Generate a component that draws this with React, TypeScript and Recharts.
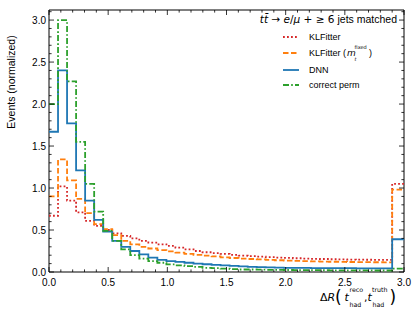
import React from 'react';
import { LineChart, Line, XAxis, YAxis, Legend, ReferenceArea } from 'recharts';

// Bin edges (38 regular bins from 0 to 2.9, plus an overflow bin up to 3.0)
const binEdges = [
  0, 0.0763, 0.1526, 0.2289, 0.3053, 0.3816, 0.4579, 0.5342, 0.6105, 0.6868,
  0.7632, 0.8395, 0.9158, 0.9921, 1.0684, 1.1447, 1.2211, 1.2974, 1.3737, 1.45,
  1.5263, 1.6026, 1.6789, 1.7553, 1.8316, 1.9079, 1.9842, 2.0605, 2.1368, 2.2132,
  2.2895, 2.3658, 2.4421, 2.5184, 2.5947, 2.6711, 2.7474, 2.8237, 2.9, 3.0,
];

const klfitter = [
  0.67, 1.02, 0.85, 0.71, 0.61, 0.55, 0.50, 0.46, 0.43, 0.40,
  0.37, 0.35, 0.33, 0.31, 0.29, 0.27, 0.25, 0.235, 0.225, 0.215,
  0.205, 0.195, 0.19, 0.183, 0.177, 0.172, 0.168, 0.164, 0.16, 0.157,
  0.155, 0.152, 0.15, 0.148, 0.147, 0.146, 0.145, 0.145, 1.05,
];

const klfitterFixed = [
  0.90, 1.34, 1.09, 0.87, 0.70, 0.57, 0.51, 0.44, 0.37, 0.33,
  0.30, 0.28, 0.26, 0.245, 0.23, 0.215, 0.205, 0.195, 0.185, 0.175,
  0.167, 0.16, 0.155, 0.15, 0.145, 0.14, 0.136, 0.132, 0.129, 0.126,
  0.124, 0.122, 0.12, 0.119, 0.118, 0.117, 0.116, 0.115, 0.98,
];

const dnn = [
  1.67, 2.40, 1.77, 1.21, 0.85, 0.62, 0.48, 0.37, 0.30, 0.25,
  0.21, 0.17, 0.145, 0.13, 0.12, 0.11, 0.10, 0.092, 0.085, 0.078,
  0.072, 0.066, 0.062, 0.058, 0.055, 0.052, 0.05, 0.049, 0.048, 0.047,
  0.046, 0.046, 0.045, 0.045, 0.044, 0.044, 0.043, 0.043, 0.39,
];

const correctPerm = [
  2.0, 3.0, 2.27, 1.55, 1.05, 0.72, 0.49, 0.37, 0.27, 0.20,
  0.16, 0.13, 0.11, 0.09, 0.08, 0.07, 0.06, 0.05, 0.045, 0.04,
  0.035, 0.03, 0.03, 0.028, 0.026, 0.025, 0.024, 0.023, 0.022, 0.022,
  0.021, 0.02, 0.02, 0.02, 0.019, 0.019, 0.018, 0.018, 0.04,
];

const xTicks = [
  0, 0.1, 0.2, 0.3, 0.4, 0.5, 0.6, 0.7, 0.8, 0.9, 1.0, 1.1, 1.2, 1.3, 1.4, 1.5,
  1.6, 1.7, 1.8, 1.9, 2.0, 2.1, 2.2, 2.3, 2.4, 2.5, 2.6, 2.7, 2.8, 2.9, 3.0,
];
const yTicks = [
  0, 0.1, 0.2, 0.3, 0.4, 0.5, 0.6, 0.7, 0.8, 0.9, 1.0, 1.1, 1.2, 1.3, 1.4, 1.5,
  1.6, 1.7, 1.8, 1.9, 2.0, 2.1, 2.2, 2.3, 2.4, 2.5, 2.6, 2.7, 2.8, 2.9, 3.0, 3.1,
];

const X_DOMAIN: [number, number] = [0, 3.0];
const Y_DOMAIN: [number, number] = [0, 3.12];

const data = binEdges.map((x, i) => {
  const j = Math.min(i, klfitter.length - 1);
  return {
    x,
    klf: klfitter[j],
    klff: klfitterFixed[j],
    dnn: dnn[j],
    perm: correctPerm[j],
  };
});

const W = 415;
const H = 311;
const MARGIN = { top: 10, right: 11, bottom: 0, left: 0 };
const YAXIS_W = 49;
const XAXIS_H = 39;
const PLOT_RIGHT = W - MARGIN.right;
const PLOT_TOP = MARGIN.top;

const SANS = '"Liberation Sans", Arial, Helvetica, sans-serif';
const MATH = '"DejaVu Sans", sans-serif';

const RED = '#d62728';
const ORANGE = '#ff7f0e';
const BLUE = '#1f77b4';
const GREEN = '#2ca02c';

const isMajor = (v: number) => Math.round(v * 10) % 5 === 0;

function XTick(props: any) {
  const { x, y, payload } = props;
  const v = payload.value as number;
  const major = isMajor(v);
  const len = major ? 5 : 2.6;
  return (
    <g>
      <line x1={x} x2={x} y1={y} y2={y - len} stroke="#000" strokeWidth={0.8} />
      <line x1={x} x2={x} y1={PLOT_TOP} y2={PLOT_TOP + len} stroke="#000" strokeWidth={0.8} />
      {major ? (
        <text x={x} y={y + 14} textAnchor="middle" fontSize={10} fontFamily={SANS} fill="#000">
          {v.toFixed(1)}
        </text>
      ) : null}
    </g>
  );
}

function YTick(props: any) {
  const { x, y, payload } = props;
  const v = payload.value as number;
  const major = isMajor(v);
  const len = major ? 5 : 2.6;
  return (
    <g>
      <line x1={x} x2={x + len} y1={y} y2={y} stroke="#000" strokeWidth={0.8} />
      <line x1={PLOT_RIGHT} x2={PLOT_RIGHT - len} y1={y} y2={y} stroke="#000" strokeWidth={0.8} />
      {major ? (
        <text x={x - 3} y={y + 3.6} textAnchor="end" fontSize={10} fontFamily={SANS} fill="#000">
          {v.toFixed(1)}
        </text>
      ) : null}
    </g>
  );
}

function XLabel() {
  const by = 300.5;
  return (
    <g fill="#000">
      <text x={320} y={by} fontSize={11} fontFamily={MATH}>Δ</text>
      <text x={327.5} y={by} fontSize={11} fontFamily={MATH} fontStyle="italic">R</text>
      <text x={335} y={by + 2.5} fontSize={17} fontFamily={MATH}>(</text>
      <text x={344.5} y={by} fontSize={11} fontFamily={MATH} fontStyle="italic">t</text>
      <text x={349.5} y={by - 8.5} fontSize={6.3} fontFamily={MATH}>reco</text>
      <text x={349.5} y={by + 6} fontSize={6.3} fontFamily={MATH}>had</text>
      <text x={364} y={by} fontSize={11} fontFamily={MATH}>,</text>
      <text x={367.5} y={by} fontSize={11} fontFamily={MATH} fontStyle="italic">t</text>
      <text x={372} y={by - 8.5} fontSize={6.3} fontFamily={MATH}>truth</text>
      <text x={372.5} y={by + 6} fontSize={6.3} fontFamily={MATH}>had</text>
      <text x={389.5} y={by + 2.5} fontSize={17} fontFamily={MATH}>)</text>
    </g>
  );
}

function YLabel() {
  return (
    <text
      transform="translate(15, 82) rotate(-90)"
      textAnchor="middle"
      fontSize={10.5}
      fontFamily={SANS}
      fill="#000"
    >
      Events (normalized)
    </text>
  );
}

const legendEntries = [
  { key: 'klf', color: RED, dash: '1.8 2.2', y: 37 },
  { key: 'klff', color: ORANGE, dash: '5.5 2.5', y: 53 },
  { key: 'dnn', color: BLUE, dash: undefined, y: 70 },
  { key: 'perm', color: GREEN, dash: '6 2.2 1.6 2.2', y: 85 },
];

function LegendContent() {
  return (
    <svg width={W} height={H} style={{ position: 'absolute', left: 0, top: 0 }}>
      <text x={397} y={23} textAnchor="end" fontSize={10.5} fill="#000">
        <tspan fontFamily={MATH} fontStyle="italic">tt̄</tspan>
        <tspan fontFamily={MATH}> → </tspan>
        <tspan fontFamily={MATH} fontStyle="italic">e</tspan>
        <tspan fontFamily={MATH}>/</tspan>
        <tspan fontFamily={MATH} fontStyle="italic">μ</tspan>
        <tspan fontFamily={MATH}> + ≥ 6</tspan>
        <tspan fontFamily={SANS}> jets matched</tspan>
      </text>
      {legendEntries.map((e) => (
        <line
          key={e.key}
          x1={283}
          x2={299}
          y1={e.y}
          y2={e.y}
          stroke={e.color}
          strokeWidth={1.8}
          strokeDasharray={e.dash}
        />
      ))}
      <text x={309} y={40} fontSize={9} fontFamily={SANS} fill="#000">KLFitter</text>
      <text x={309} y={56} fontSize={9} fontFamily={SANS} fill="#000">KLFitter (</text>
      <text x={347} y={56} fontSize={9} fontFamily={MATH} fontStyle="italic" fill="#000">m</text>
      <text x={354.5} y={49} fontSize={5} fontFamily={MATH} fill="#000">fixed</text>
      <text x={354.5} y={61} fontSize={5} fontFamily={MATH} fontStyle="italic" fill="#000">t</text>
      <text x={369} y={56} fontSize={9} fontFamily={SANS} fill="#000">)</text>
      <text x={309} y={73} fontSize={9} fontFamily={SANS} fill="#000">DNN</text>
      <text x={309} y={88} fontSize={9} fontFamily={SANS} fill="#000">correct perm</text>
    </svg>
  );
}

export default function App() {
  return (
    <div style={{ position: 'absolute', left: 0, top: 0, width: W, height: H, background: '#fff' }}>
      <LineChart width={W} height={H} data={data} margin={MARGIN}>
        <XAxis
          dataKey="x"
          type="number"
          domain={X_DOMAIN}
          ticks={xTicks}
          interval={0}
          allowDataOverflow
          height={XAXIS_H}
          tickSize={0}
          tickMargin={0}
          axisLine={false}
          tickLine={false}
          tick={<XTick />}
          label={{ content: () => <XLabel /> }}
        />
        <YAxis
          type="number"
          domain={Y_DOMAIN}
          ticks={yTicks}
          interval={0}
          allowDataOverflow
          width={YAXIS_W}
          tickSize={0}
          tickMargin={0}
          axisLine={false}
          tickLine={false}
          tick={<YTick />}
          label={{ content: () => <YLabel /> }}
        />
        <Line type="stepAfter" dataKey="klf" stroke={RED} strokeWidth={1.8} strokeDasharray="1.8 2.2" dot={false} activeDot={false} isAnimationActive={false} />
        <Line type="stepAfter" dataKey="klff" stroke={ORANGE} strokeWidth={1.8} strokeDasharray="5.5 2.5" dot={false} activeDot={false} isAnimationActive={false} />
        <Line type="stepAfter" dataKey="dnn" stroke={BLUE} strokeWidth={1.8} dot={false} activeDot={false} isAnimationActive={false} />
        <Line type="stepAfter" dataKey="perm" stroke={GREEN} strokeWidth={1.8} strokeDasharray="6 2.2 1.6 2.2" dot={false} activeDot={false} isAnimationActive={false} />
        <ReferenceArea x1={0} x2={3.0} y1={0} y2={3.12} fill="none" stroke="#000" strokeWidth={1} ifOverflow="visible" />
        <Legend
          layout="vertical"
          align="center"
          verticalAlign="middle"
          content={() => <LegendContent />}
          wrapperStyle={{ position: 'absolute', left: 0, top: 0, width: W, height: H, pointerEvents: 'none' }}
        />
      </LineChart>
    </div>
  );
}
